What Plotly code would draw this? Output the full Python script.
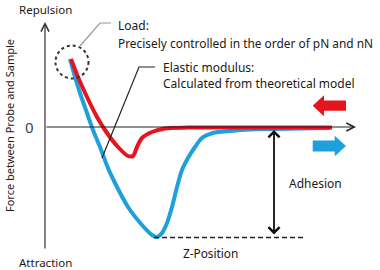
import plotly.graph_objects as go

# ---- data (z position, force); origin at the axes crossing ----
retract_z = [25, 30, 35, 42, 48, 55, 63, 70, 83, 97, 107, 112, 117, 122, 127, 132, 137, 143, 150, 157, 168, 185, 205, 228, 255, 285]
retract_f = [68, 50, 34, 14, -3, -20, -41, -56, -80, -98, -108, -110, -106, -96, -80, -60, -43, -31, -20, -11, -6, -4, -2.5, -2, -1.5, -1]

approach_z = [26, 33, 42, 52, 62, 73, 83, 88, 92, 97, 107, 120, 143, 205, 287]
approach_f = [68, 50, 30, 10, -6, -20, -29, -29, -20, -11, -5, -1.5, -0.6, -0.5, -0.5]

adhesion_level = -110.5
dash_z = [109, 261]

load_leader_z = [35, 55, 66]
load_leader_f = [81, 104, 104]
elastic_leader_z = [57, 94, 110]
elastic_leader_f = [-31, 60, 60]

BLUE = "#1EA0DC"
RED = "#E6141E"
TXT = "#231815"
FONT = "Noto Sans"

fig = go.Figure()

fig.add_trace(go.Scatter(x=retract_z, y=retract_f, mode="lines",
                         line=dict(color=BLUE, width=4, shape="spline", smoothing=0.8)))
fig.add_trace(go.Scatter(x=approach_z, y=approach_f, mode="lines",
                         line=dict(color=RED, width=4, shape="spline", smoothing=0.8)))
fig.add_trace(go.Scatter(x=dash_z, y=[adhesion_level] * 2, mode="lines",
                         line=dict(color="#222", width=1.3, dash="5px,3px")))
fig.add_trace(go.Scatter(x=load_leader_z, y=load_leader_f, mode="lines",
                         line=dict(color="#999999", width=1.2)))
fig.add_trace(go.Scatter(x=elastic_leader_z, y=elastic_leader_f, mode="lines",
                         line=dict(color="#222222", width=1.2)))

# dotted circle around the load point
fig.add_shape(type="circle", xref="x", yref="y", x0=10.5, x1=43.5, y0=48.5, y1=81.5,
              line=dict(color="#333", width=2, dash="dot"))


def block_arrow(x_tail, x_tip, yc, head_len, head_half, body_half, color):
    d = 1 if x_tip > x_tail else -1
    xb = x_tip - d * head_len
    path = (f"M{x_tail},{yc - body_half} L{xb},{yc - body_half} L{xb},{yc - head_half} "
            f"L{x_tip},{yc} L{xb},{yc + head_half} L{xb},{yc + body_half} L{x_tail},{yc + body_half} Z")
    fig.add_shape(type="path", xref="x", yref="y", path=path, fillcolor=color,
                  line=dict(width=0))


block_arrow(301, 267.7, 21.3, 11.3, 10.5, 5.1, RED)
block_arrow(267.7, 301, -19, 11.3, 10.2, 5.6, BLUE)

anns = []
# axes arrows
anns.append(dict(x=0, y=105, ax=0, ay=-123, axref="x", ayref="y", xref="x", yref="y",
                 text="", showarrow=True, arrowhead=5, arrowsize=1.3, arrowwidth=1.2, arrowcolor="#333"))
anns.append(dict(x=311, y=0, ax=0, ay=0, axref="x", ayref="y", xref="x", yref="y",
                 text="", showarrow=True, arrowhead=5, arrowsize=1.3, arrowwidth=1.2, arrowcolor="#222"))
# adhesion double arrow
anns.append(dict(x=229, y=-3, ax=229, ay=-109, axref="x", ayref="y", xref="x", yref="y",
                 text="", showarrow=True, arrowhead=4, startarrowhead=4, arrowside="end+start",
                 arrowsize=1.2, startarrowsize=1.2, arrowwidth=1.8, arrowcolor="#111"))


def txt(x, y, s, size=12, xanchor="left", angle=0, color=TXT):
    anns.append(dict(x=x, y=y, xref="x", yref="y", text=s, showarrow=False,
                     xanchor=xanchor, yanchor="middle", textangle=angle,
                     font=dict(family=FONT, size=size, color=color)))


txt(0, 118, "Repulsion", 11.5, "center")
txt(0, -135, "Attraction", 11.5, "center")
txt(-16, 0, "0", 15, "center", color="#444")
txt(-36, 1, "Force between Probe and Sample", 11, "center", angle=-90)
txt(71, 102, "Load:", 12)
txt(71, 84, "Precisely controlled in the order of pN and nN", 11.9)
txt(116, 60, "Elastic modulus:", 12)
txt(116, 44, "Calculated from theoretical model", 12)
txt(242, -56, "Adhesion", 12)
txt(165, -126, "Z-Position", 11.8, "center")

fig.update_layout(
    width=380, height=270, margin=dict(l=0, r=0, t=0, b=0),
    paper_bgcolor="white", plot_bgcolor="white", showlegend=False,
    xaxis=dict(range=[-45, 335], visible=False, fixedrange=True),
    yaxis=dict(range=[-143, 127], visible=False, fixedrange=True),
    annotations=anns,
)

fig.write_html("out.html")
